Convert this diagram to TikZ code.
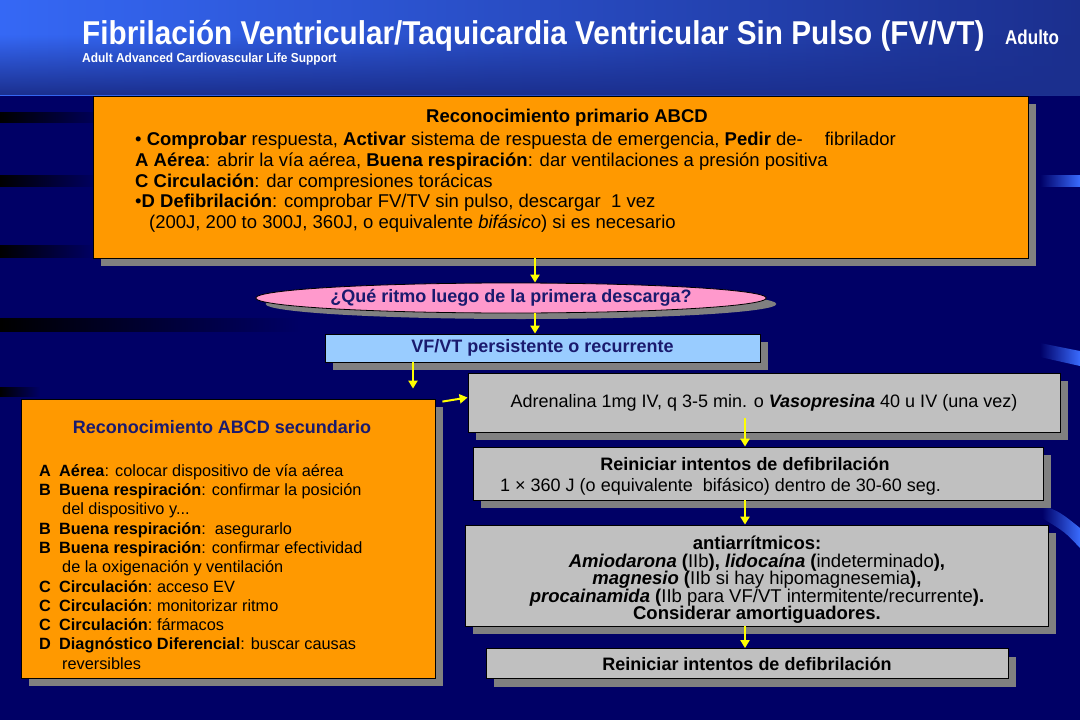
\documentclass[tikz,border=0pt]{standalone}
\usepackage{fontspec}
\setmainfont{Liberation Sans}
\usepackage{tikz}
\usetikzlibrary{positioning, arrows.meta, shadows, fadings, shapes.geometric}
\definecolor{slideBg}{HTML}{000066}
\definecolor{hdrLight}{HTML}{3568F5}
\definecolor{hdrDark}{HTML}{1B2F8E}
\definecolor{boxOrange}{HTML}{FF9900}
\definecolor{boxGray}{HTML}{C0C0C0}
\definecolor{boxBlue}{HTML}{99CCFF}
\definecolor{boxPink}{HTML}{FF99CC}
\definecolor{shadowGray}{HTML}{808080}
\definecolor{arrowYellow}{HTML}{FFFF00}
\definecolor{navyText}{HTML}{1A1A6E}
\definecolor{streakBlue}{HTML}{3A6CFF}

\begin{document}
\begin{tikzpicture}[x=1pt, y=-1pt,
    every node/.style={font=\fontsize{18}{20.7}\selectfont, inner sep=0pt},
    card/.style={rectangle, draw=black, line width=0.8pt,
                 drop shadow={shadow xshift=8pt, shadow yshift=-8pt, fill=shadowGray, opacity=1}},
    orangeCard/.style={card, fill=boxOrange},
    grayCard/.style={card, fill=boxGray},
    navyBold/.style={font=\fontsize{18}{20.7}\selectfont\bfseries, text=navyText},
    flowArrow/.style={draw=arrowYellow, line width=2pt, -{Triangle[width=9pt,length=8pt]}},
  ]
  \useasboundingbox (0,0) rectangle (1080,720);
  \fill[slideBg] (0,0) rectangle (1080,720);

  % header
  \shade[left color=hdrLight, right color=hdrDark] (0,0) rectangle (1080,95);
  \fill[hdrDark, path fading=north] (0,35) rectangle (1080,95);
  \node[anchor=base west, text=white, font=\fontsize{33}{36}\selectfont\bfseries] (ttl) at (82,44)
    {\scalebox{0.9}[1]{Fibrilación Ventricular/Taquicardia Ventricular Sin Pulso (FV/VT)}};
  \node[anchor=base west, text=white, font=\fontsize{20}{22}\selectfont\bfseries] (adu) at (1005,44)
    {\scalebox{0.85}[1]{Adulto}};
  \node[anchor=base west, text=white, font=\fontsize{13}{15}\selectfont\bfseries] (sub) at (82,62)
    {\scalebox{0.92}[1]{Adult Advanced Cardiovascular Life Support}};

  % background streaks
  \foreach \sy/\sh/\sl in {112/11/110, 175/12/100, 245/13/95, 318/14/300, 387/10/40}
    \fill[black, path fading=east] (0,\sy) rectangle (\sl,\sy+\sh);
  \fill[streakBlue, path fading=west] (1040,175) rectangle (1080,187);
  \fill[streakBlue, path fading=west] (1040,343) -- (1080,351) -- (1080,366) -- (1040,357) -- cycle;
  \fill[streakBlue, path fading=west] (1042,505) .. controls (1060,512) .. (1080,528)
    -- (1080,548) .. controls (1065,532) .. (1042,518) -- cycle;

  % primary survey
  \node[orangeCard, minimum width=935pt, minimum height=162pt] (prim) at (560.5,177) {};
  \node[font=\fontsize{18.5}{20.7}\selectfont\bfseries] (primTitle) at (567,118) {Reconocimiento primario ABCD};
  \node[anchor=north west, align=left, font=\fontsize{18.5}{20.7}\selectfont] (primText) at (135,132)
    {\textbullet\ \textbf{Comprobar} respuesta, \textbf{Activar} sistema de respuesta de emergencia, \textbf{Pedir} de-\hspace{22pt}fibrilador\\
     \textbf{A Aérea}: abrir la vía aérea, \textbf{Buena respiración}: dar ventilaciones a presión positiva\\
     \textbf{C Circulación}: dar compresiones torácicas\\
     \textbullet\textbf{D Defibrilación}: comprobar FV/TV sin pulso, descargar\ \ 1 vez\\
     \hspace{14pt}(200J, 200 to 300J, 360J, o equivalente \textit{bifásico}) si es necesario};

  % rhythm question
  \node[ellipse, draw=black, line width=0.8pt, fill=boxPink, minimum width=472pt, minimum height=30pt,
        drop shadow={shadow xshift=10pt, shadow yshift=-6pt, fill=shadowGray, opacity=1},
        navyBold] (ritmo) at (511,298) {¿Qué ritmo luego de la primera descarga?};
  \node[card, fill=boxBlue, minimum width=435pt, minimum height=28pt, navyBold] (vfvt) at (542.5,348)
    {VF/VT persistente o recurrente};

  % secondary survey
  \node[orangeCard, minimum width=414pt, minimum height=279pt] (sec) at (228,538.5) {};
  \node[navyBold] (secTitle) at (222,427) {Reconocimiento ABCD secundario};
  \node[anchor=north west, align=left, font=\fontsize{16.3}{19.3}\selectfont] (secText) at (39,464)
    {\makebox[20pt][l]{\bfseries A}\textbf{Aérea}: colocar dispositivo de vía aérea\\
     \makebox[20pt][l]{\bfseries B}\textbf{Buena respiración}: confirmar la posición\\
     \hspace{23pt}del dispositivo y...\\
     \makebox[20pt][l]{\bfseries B}\textbf{Buena respiración}:\ \ asegurarlo\\
     \makebox[20pt][l]{\bfseries B}\textbf{Buena respiración}: confirmar efectividad\\
     \hspace{23pt}de la oxigenación y ventilación\\
     \makebox[20pt][l]{\bfseries C}\textbf{Circulación}:\ acceso EV\\
     \makebox[20pt][l]{\bfseries C}\textbf{Circulación}:\ monitorizar ritmo\\
     \makebox[20pt][l]{\bfseries C}\textbf{Circulación}:\ fármacos\\
     \makebox[20pt][l]{\bfseries D}\textbf{Diagnóstico Diferencial}: buscar causas\\
     \hspace{23pt}reversibles};

  % drug and shock sequence
  \node[grayCard, minimum width=592pt, minimum height=59pt] (adr) at (764,402.5)
    {Adrenalina 1mg IV, q 3-5 min. o \textbf{\textit{Vasopresina}} 40 u IV (una vez)};
  \node[grayCard, minimum width=570pt, minimum height=53pt] (rein) at (758,473.5) {};
  \node[font=\fontsize{18}{20.7}\selectfont\bfseries] (reinTitle) at (745,464) {Reiniciar intentos de defibrilación};
  \node[anchor=west] (reinText) at (500,487) {1 × 360 J (o equivalente\ \ bifásico) dentro de 30-60 seg.};
  \node[grayCard, minimum width=583pt, minimum height=101pt] (antiarr) at (756.5,575.5) {};
  \node[anchor=north, align=center, font=\fontsize{18.5}{17.5}\selectfont] (antiText) at (757,536)
    {\textbf{antiarrítmicos:}\\
     \textbf{\textit{Amiodarona}} \textbf{(}IIb\textbf{),} \textbf{\textit{lidocaína}} \textbf{(}indeterminado\textbf{),}\\
     \textbf{\textit{magnesio}} \textbf{(}IIb si hay hipomagnesemia\textbf{),}\\
     \textbf{\textit{procainamida}} \textbf{(}IIb para VF/VT intermitente/recurrente\textbf{).}\\
     \textbf{Considerar amortiguadores.}};
  \node[grayCard, minimum width=522pt, minimum height=30pt, font=\fontsize{18}{20.7}\selectfont\bfseries]
    (reinFin) at (747,663.5) {Reiniciar intentos de defibrilación};

  % arrows
  \coordinate (colA) at (535,0);
  \coordinate (colB) at (413,0);
  \coordinate (colC) at (745,0);
  \draw[flowArrow] (prim.south -| colA) -- (ritmo.north -| colA);
  \draw[flowArrow] (ritmo.south -| colA) -- (vfvt.north -| colA);
  \draw[flowArrow, shorten >=10pt] (vfvt.south -| colB) -- (sec.north -| colB);
  \draw[flowArrow] ([shift={(7pt,-3pt)}]sec.north east) -- ([yshift=5pt]adr.west);
  \path (adr.south -| colC) coordinate (adrOut);
  \draw[flowArrow] ([yshift=14pt]adrOut) -- (rein.north -| colC);
  \draw[flowArrow] (rein.south -| colC) -- (antiarr.north -| colC);
  \draw[flowArrow] (antiarr.south -| colC) -- (reinFin.north -| colC);
\end{tikzpicture}
\end{document}
